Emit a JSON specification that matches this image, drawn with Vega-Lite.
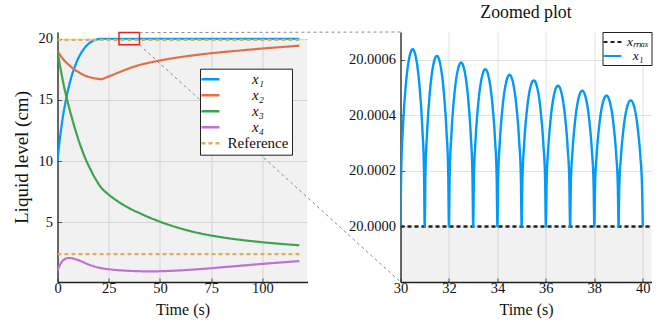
{
  "$schema": "https://vega.github.io/schema/vega-lite/v6.json",
  "padding": {"left": 11.5, "top": 3, "right": 5, "bottom": 5},
  "background": "white",
  "datasets": {
    "main": [
      {"series": "x₁", "g": "a", "t": 0, "v": 10}, {"series": "x₁", "g": "a", "t": 0.5, "v": 10.85}, {"series": "x₁", "g": "a", "t": 1, "v": 11.6}, {"series": "x₁", "g": "a", "t": 2, "v": 12.9}, {"series": "x₁", "g": "a", "t": 3, "v": 14.0}, {"series": "x₁", "g": "a", "t": 4, "v": 14.9}, {"series": "x₁", "g": "a", "t": 5, "v": 15.7}, {"series": "x₁", "g": "a", "t": 6, "v": 16.4}, {"series": "x₁", "g": "a", "t": 7, "v": 17.0}, {"series": "x₁", "g": "a", "t": 8, "v": 17.5}, {"series": "x₁", "g": "a", "t": 9, "v": 17.95}, {"series": "x₁", "g": "a", "t": 10, "v": 18.35}, {"series": "x₁", "g": "a", "t": 12, "v": 18.95}, {"series": "x₁", "g": "a", "t": 14, "v": 19.4}, {"series": "x₁", "g": "a", "t": 16, "v": 19.7}, {"series": "x₁", "g": "a", "t": 18, "v": 19.88}, {"series": "x₁", "g": "a", "t": 20, "v": 19.97}, {"series": "x₁", "g": "a", "t": 22, "v": 20}, {"series": "x₁", "g": "a", "t": 30, "v": 20}, {"series": "x₁", "g": "a", "t": 60, "v": 20}, {"series": "x₁", "g": "a", "t": 90, "v": 20}, {"series": "x₁", "g": "a", "t": 118, "v": 20},
      {"series": "x₂", "g": "b", "t": 0, "v": 19}, {"series": "x₂", "g": "b", "t": 2, "v": 18.5}, {"series": "x₂", "g": "b", "t": 4, "v": 18.1}, {"series": "x₂", "g": "b", "t": 6, "v": 17.8}, {"series": "x₂", "g": "b", "t": 8, "v": 17.5}, {"series": "x₂", "g": "b", "t": 10, "v": 17.3}, {"series": "x₂", "g": "b", "t": 12, "v": 17.1}, {"series": "x₂", "g": "b", "t": 14, "v": 16.95}, {"series": "x₂", "g": "b", "t": 16, "v": 16.85}, {"series": "x₂", "g": "b", "t": 18, "v": 16.77}, {"series": "x₂", "g": "b", "t": 20, "v": 16.72}, {"series": "x₂", "g": "b", "t": 21.5, "v": 16.7}, {"series": "x₂", "g": "b", "t": 23, "v": 16.78}, {"series": "x₂", "g": "b", "t": 25, "v": 16.92}, {"series": "x₂", "g": "b", "t": 27, "v": 17.05}, {"series": "x₂", "g": "b", "t": 30, "v": 17.25}, {"series": "x₂", "g": "b", "t": 35, "v": 17.58}, {"series": "x₂", "g": "b", "t": 40, "v": 17.85}, {"series": "x₂", "g": "b", "t": 45, "v": 18.05}, {"series": "x₂", "g": "b", "t": 50, "v": 18.22}, {"series": "x₂", "g": "b", "t": 60, "v": 18.5}, {"series": "x₂", "g": "b", "t": 70, "v": 18.72}, {"series": "x₂", "g": "b", "t": 80, "v": 18.9}, {"series": "x₂", "g": "b", "t": 90, "v": 19.05}, {"series": "x₂", "g": "b", "t": 100, "v": 19.2}, {"series": "x₂", "g": "b", "t": 110, "v": 19.33}, {"series": "x₂", "g": "b", "t": 118, "v": 19.43},
      {"series": "x₃", "g": "c", "t": 0, "v": 19}, {"series": "x₃", "g": "c", "t": 1, "v": 18.0}, {"series": "x₃", "g": "c", "t": 2, "v": 17.1}, {"series": "x₃", "g": "c", "t": 3, "v": 16.25}, {"series": "x₃", "g": "c", "t": 4, "v": 15.5}, {"series": "x₃", "g": "c", "t": 5, "v": 14.8}, {"series": "x₃", "g": "c", "t": 6, "v": 14.15}, {"series": "x₃", "g": "c", "t": 7, "v": 13.55}, {"series": "x₃", "g": "c", "t": 8, "v": 12.95}, {"series": "x₃", "g": "c", "t": 9, "v": 12.4}, {"series": "x₃", "g": "c", "t": 10, "v": 11.85}, {"series": "x₃", "g": "c", "t": 12, "v": 10.9}, {"series": "x₃", "g": "c", "t": 14, "v": 10.05}, {"series": "x₃", "g": "c", "t": 16, "v": 9.35}, {"series": "x₃", "g": "c", "t": 18, "v": 8.7}, {"series": "x₃", "g": "c", "t": 20, "v": 8.15}, {"series": "x₃", "g": "c", "t": 22, "v": 7.7}, {"series": "x₃", "g": "c", "t": 24, "v": 7.4}, {"series": "x₃", "g": "c", "t": 27, "v": 7.0}, {"series": "x₃", "g": "c", "t": 30, "v": 6.65}, {"series": "x₃", "g": "c", "t": 35, "v": 6.15}, {"series": "x₃", "g": "c", "t": 40, "v": 5.75}, {"series": "x₃", "g": "c", "t": 45, "v": 5.38}, {"series": "x₃", "g": "c", "t": 50, "v": 5.05}, {"series": "x₃", "g": "c", "t": 60, "v": 4.5}, {"series": "x₃", "g": "c", "t": 70, "v": 4.08}, {"series": "x₃", "g": "c", "t": 80, "v": 3.78}, {"series": "x₃", "g": "c", "t": 90, "v": 3.55}, {"series": "x₃", "g": "c", "t": 100, "v": 3.37}, {"series": "x₃", "g": "c", "t": 110, "v": 3.22}, {"series": "x₃", "g": "c", "t": 118, "v": 3.12},
      {"series": "x₄", "g": "d", "t": 0, "v": 1.05}, {"series": "x₄", "g": "d", "t": 1, "v": 1.45}, {"series": "x₄", "g": "d", "t": 2, "v": 1.75}, {"series": "x₄", "g": "d", "t": 3, "v": 1.93}, {"series": "x₄", "g": "d", "t": 4, "v": 2.03}, {"series": "x₄", "g": "d", "t": 5, "v": 2.07}, {"series": "x₄", "g": "d", "t": 6, "v": 2.08}, {"series": "x₄", "g": "d", "t": 7, "v": 2.06}, {"series": "x₄", "g": "d", "t": 8, "v": 2.02}, {"series": "x₄", "g": "d", "t": 10, "v": 1.92}, {"series": "x₄", "g": "d", "t": 12, "v": 1.78}, {"series": "x₄", "g": "d", "t": 14, "v": 1.63}, {"series": "x₄", "g": "d", "t": 16, "v": 1.5}, {"series": "x₄", "g": "d", "t": 18, "v": 1.39}, {"series": "x₄", "g": "d", "t": 20, "v": 1.3}, {"series": "x₄", "g": "d", "t": 22, "v": 1.23}, {"series": "x₄", "g": "d", "t": 25, "v": 1.16}, {"series": "x₄", "g": "d", "t": 30, "v": 1.08}, {"series": "x₄", "g": "d", "t": 35, "v": 1.03}, {"series": "x₄", "g": "d", "t": 40, "v": 1.0}, {"series": "x₄", "g": "d", "t": 45, "v": 0.99}, {"series": "x₄", "g": "d", "t": 50, "v": 1.0}, {"series": "x₄", "g": "d", "t": 55, "v": 1.03}, {"series": "x₄", "g": "d", "t": 60, "v": 1.07}, {"series": "x₄", "g": "d", "t": 70, "v": 1.18}, {"series": "x₄", "g": "d", "t": 80, "v": 1.32}, {"series": "x₄", "g": "d", "t": 90, "v": 1.46}, {"series": "x₄", "g": "d", "t": 100, "v": 1.6}, {"series": "x₄", "g": "d", "t": 110, "v": 1.73}, {"series": "x₄", "g": "d", "t": 118, "v": 1.83},
      {"series": "Reference", "g": "r1", "t": 0, "v": 19.9}, {"series": "Reference", "g": "r1", "t": 118, "v": 19.9},
      {"series": "Reference", "g": "r2", "t": 0, "v": 2.4}, {"series": "Reference", "g": "r2", "t": 118, "v": 2.4}
    ],
    "zoom": [
      {"series": "xₘₐₓ", "t": 30, "v": 20}, {"series": "xₘₐₓ", "t": 40.36, "v": 20},
      {"series": "x₁", "t": 30, "v": 20}, {"series": "x₁", "t": 30.03, "v": 20.000198}, {"series": "x₁", "t": 30.1, "v": 20.000355}, {"series": "x₁", "t": 30.2, "v": 20.000489}, {"series": "x₁", "t": 30.35, "v": 20.000602}, {"series": "x₁", "t": 30.5, "v": 20.000638}, {"series": "x₁", "t": 30.65, "v": 20.000602}, {"series": "x₁", "t": 30.8, "v": 20.000489}, {"series": "x₁", "t": 30.9, "v": 20.000355}, {"series": "x₁", "t": 30.97, "v": 20.000198},
      {"series": "x₁", "t": 31, "v": 20}, {"series": "x₁", "t": 31.03, "v": 20.00019}, {"series": "x₁", "t": 31.1, "v": 20.000341}, {"series": "x₁", "t": 31.2, "v": 20.000471}, {"series": "x₁", "t": 31.35, "v": 20.00058}, {"series": "x₁", "t": 31.5, "v": 20.000614}, {"series": "x₁", "t": 31.65, "v": 20.00058}, {"series": "x₁", "t": 31.8, "v": 20.000471}, {"series": "x₁", "t": 31.9, "v": 20.000341}, {"series": "x₁", "t": 31.97, "v": 20.00019},
      {"series": "x₁", "t": 32, "v": 20}, {"series": "x₁", "t": 32.03, "v": 20.000183}, {"series": "x₁", "t": 32.1, "v": 20.000328}, {"series": "x₁", "t": 32.2, "v": 20.000453}, {"series": "x₁", "t": 32.35, "v": 20.000557}, {"series": "x₁", "t": 32.5, "v": 20.00059}, {"series": "x₁", "t": 32.65, "v": 20.000557}, {"series": "x₁", "t": 32.8, "v": 20.000453}, {"series": "x₁", "t": 32.9, "v": 20.000328}, {"series": "x₁", "t": 32.97, "v": 20.000183},
      {"series": "x₁", "t": 33, "v": 20}, {"series": "x₁", "t": 33.03, "v": 20.000175}, {"series": "x₁", "t": 33.1, "v": 20.000315}, {"series": "x₁", "t": 33.2, "v": 20.000434}, {"series": "x₁", "t": 33.35, "v": 20.000534}, {"series": "x₁", "t": 33.5, "v": 20.000566}, {"series": "x₁", "t": 33.65, "v": 20.000534}, {"series": "x₁", "t": 33.8, "v": 20.000434}, {"series": "x₁", "t": 33.9, "v": 20.000315}, {"series": "x₁", "t": 33.97, "v": 20.000175},
      {"series": "x₁", "t": 34, "v": 20}, {"series": "x₁", "t": 34.03, "v": 20.000169}, {"series": "x₁", "t": 34.1, "v": 20.000304}, {"series": "x₁", "t": 34.2, "v": 20.000419}, {"series": "x₁", "t": 34.35, "v": 20.000515}, {"series": "x₁", "t": 34.5, "v": 20.000546}, {"series": "x₁", "t": 34.65, "v": 20.000515}, {"series": "x₁", "t": 34.8, "v": 20.000419}, {"series": "x₁", "t": 34.9, "v": 20.000304}, {"series": "x₁", "t": 34.97, "v": 20.000169},
      {"series": "x₁", "t": 35, "v": 20}, {"series": "x₁", "t": 35.03, "v": 20.000163}, {"series": "x₁", "t": 35.1, "v": 20.000292}, {"series": "x₁", "t": 35.2, "v": 20.000403}, {"series": "x₁", "t": 35.35, "v": 20.000497}, {"series": "x₁", "t": 35.5, "v": 20.000526}, {"series": "x₁", "t": 35.65, "v": 20.000497}, {"series": "x₁", "t": 35.8, "v": 20.000403}, {"series": "x₁", "t": 35.9, "v": 20.000292}, {"series": "x₁", "t": 35.97, "v": 20.000163},
      {"series": "x₁", "t": 36, "v": 20}, {"series": "x₁", "t": 36.03, "v": 20.000157}, {"series": "x₁", "t": 36.1, "v": 20.000282}, {"series": "x₁", "t": 36.2, "v": 20.000389}, {"series": "x₁", "t": 36.35, "v": 20.000479}, {"series": "x₁", "t": 36.5, "v": 20.000507}, {"series": "x₁", "t": 36.65, "v": 20.000479}, {"series": "x₁", "t": 36.8, "v": 20.000389}, {"series": "x₁", "t": 36.9, "v": 20.000282}, {"series": "x₁", "t": 36.97, "v": 20.000157},
      {"series": "x₁", "t": 37, "v": 20}, {"series": "x₁", "t": 37.03, "v": 20.000152}, {"series": "x₁", "t": 37.1, "v": 20.000272}, {"series": "x₁", "t": 37.2, "v": 20.000375}, {"series": "x₁", "t": 37.35, "v": 20.000462}, {"series": "x₁", "t": 37.5, "v": 20.000489}, {"series": "x₁", "t": 37.65, "v": 20.000462}, {"series": "x₁", "t": 37.8, "v": 20.000375}, {"series": "x₁", "t": 37.9, "v": 20.000272}, {"series": "x₁", "t": 37.97, "v": 20.000152},
      {"series": "x₁", "t": 38, "v": 20}, {"series": "x₁", "t": 38.03, "v": 20.000146}, {"series": "x₁", "t": 38.1, "v": 20.000262}, {"series": "x₁", "t": 38.2, "v": 20.000361}, {"series": "x₁", "t": 38.35, "v": 20.000445}, {"series": "x₁", "t": 38.5, "v": 20.000471}, {"series": "x₁", "t": 38.65, "v": 20.000445}, {"series": "x₁", "t": 38.8, "v": 20.000361}, {"series": "x₁", "t": 38.9, "v": 20.000262}, {"series": "x₁", "t": 38.97, "v": 20.000146},
      {"series": "x₁", "t": 39, "v": 20}, {"series": "x₁", "t": 39.03, "v": 20.000141}, {"series": "x₁", "t": 39.1, "v": 20.000252}, {"series": "x₁", "t": 39.2, "v": 20.000348}, {"series": "x₁", "t": 39.35, "v": 20.000429}, {"series": "x₁", "t": 39.5, "v": 20.000454}, {"series": "x₁", "t": 39.65, "v": 20.000429}, {"series": "x₁", "t": 39.8, "v": 20.000348}, {"series": "x₁", "t": 39.9, "v": 20.000252}, {"series": "x₁", "t": 39.97, "v": 20.000141},
      {"series": "x₁", "t": 40, "v": 20}
    ]
  },
  "hconcat": [
    {
      "width": 250,
      "height": 250,
      "layer": [
        {
          "data": {"values": [{"lo": 0, "hi": 20}]},
          "mark": {"type": "rect", "color": "black", "opacity": 0.055, "clip": true},
          "encoding": {
            "y": {"field": "lo", "type": "quantitative", "title": "Liquid level (cm)", "scale": {"domain": [0.12, 20.55], "nice": false, "zero": false}},
            "y2": {"field": "hi"}
          }
        },
        {
          "data": {"name": "main"},
          "mark": {"type": "line", "strokeWidth": 2.2, "interpolate": "monotone", "clip": true},
          "encoding": {
            "x": {"field": "t", "type": "quantitative", "title": "Time (s)", "scale": {"domain": [0, 122], "nice": false, "zero": false},
                  "axis": {"values": [0, 25, 50, 75, 100]}},
            "y": {"field": "v", "type": "quantitative", "title": "Liquid level (cm)", "scale": {"domain": [0.12, 20.55], "nice": false, "zero": false},
                  "axis": {"values": [5, 10, 15, 20]}},
            "color": {"field": "series", "type": "nominal",
                      "scale": {"domain": ["x₁", "x₂", "x₃", "x₄", "Reference"], "range": ["#009af9", "#e26f46", "#3da44d", "#c271d2", "#deb052"]},
                      "legend": {"title": null, "orient": "none", "legendX": 142.5, "legendY": 36.7, "padding": 3, "fillColor": "white", "strokeColor": "#222",
                                 "symbolType": "M-1.5,0H1.5", "symbolSize": 144, "symbolStrokeWidth": 2.5, "labelFont": "Liberation Serif", "labelFontSize": 15, "labelAlign": "center", "labelOffset": 40,
                                 "rowPadding": 0, "labelLimit": 300,
                                 "encode": {"labels": {"update": {"fontStyle": {"signal": "datum.value == 'Reference' ? 'normal' : 'italic'"}}}}}},
            "strokeDash": {"field": "series", "type": "nominal",
                           "scale": {"domain": ["x₁", "x₂", "x₃", "x₄", "Reference"], "range": [[1, 0], [1, 0], [1, 0], [1, 0], [4, 3]]},
                           "legend": {"title": null, "orient": "none", "legendX": 142.5, "legendY": 36.7, "padding": 3, "fillColor": "white", "strokeColor": "#222",
                                 "symbolType": "M-1.5,0H1.5", "symbolSize": 144, "symbolStrokeWidth": 2.5, "labelFont": "Liberation Serif", "labelFontSize": 15, "labelAlign": "center", "labelOffset": 40,
                                 "rowPadding": 0, "labelLimit": 300,
                                 "encode": {"labels": {"update": {"fontStyle": {"signal": "datum.value == 'Reference' ? 'normal' : 'italic'"}}}}}},
            "detail": {"field": "g"}
          }
        },
        {
          "data": {"values": [{"t": 30, "t2": 40, "v": 19.5, "v2": 20.5}]},
          "mark": {"type": "rect", "fill": "transparent", "stroke": "#e8231f", "strokeWidth": 1.5},
          "encoding": {
            "x": {"field": "t", "type": "quantitative", "title": "Time (s)", "scale": {"domain": [0, 122], "nice": false, "zero": false}},
            "x2": {"field": "t2"},
            "y": {"field": "v", "type": "quantitative", "title": "Liquid level (cm)", "scale": {"domain": [0.12, 20.55], "nice": false, "zero": false}},
            "y2": {"field": "v2"}
          }
        },
        {
          "data": {"values": [{"t": 40, "t2": 167.38, "v": 20.5, "v2": 20.55}, {"t": 40, "t2": 167.38, "v": 19.5, "v2": 0.12}]},
          "mark": {"type": "rule", "color": "#8a8a8a", "strokeWidth": 1, "strokeDash": [3, 3], "clip": false},
          "encoding": {
            "x": {"field": "t", "type": "quantitative", "title": "Time (s)", "scale": {"domain": [0, 122], "nice": false, "zero": false}},
            "x2": {"field": "t2"},
            "y": {"field": "v", "type": "quantitative", "title": "Liquid level (cm)", "scale": {"domain": [0.12, 20.55], "nice": false, "zero": false}},
            "y2": {"field": "v2"}
          }
        }
      ]
    },
    {
      "width": 251,
      "height": 250,
      "title": {"text": "Zoomed plot"},
      "layer": [
        {
          "data": {"values": [{"lo": 19.9998, "hi": 20}]},
          "mark": {"type": "rect", "color": "black", "opacity": 0.055},
          "encoding": {
            "y": {"field": "lo", "type": "quantitative", "title": null, "scale": {"domain": [19.9998, 20.0007], "nice": false, "zero": false}},
            "y2": {"field": "hi"}
          }
        },
        {
          "data": {"name": "zoom"},
          "mark": {"type": "line", "strokeWidth": 2.4, "interpolate": "monotone", "clip": true},
          "encoding": {
            "x": {"field": "t", "type": "quantitative", "title": "Time (s)", "scale": {"domain": [30, 40.36], "nice": false, "zero": false},
                  "axis": {"values": [30, 32, 34, 36, 38, 40]}},
            "y": {"field": "v", "type": "quantitative", "title": null, "scale": {"domain": [19.9998, 20.0007], "nice": false, "zero": false},
                  "axis": {"values": [20, 20.0002, 20.0004, 20.0006], "format": ".4f"}},
            "color": {"field": "series", "type": "nominal",
                      "scale": {"domain": ["xₘₐₓ", "x₁"], "range": ["#222222", "#009af9"]},
                      "legend": {"title": null, "orient": "top-right", "offset": 0, "padding": 2.5, "fillColor": "white", "strokeColor": "#222",
                                 "symbolType": "M-1.5,0H1.5", "symbolSize": 144, "symbolStrokeWidth": 2.2, "labelFont": "Liberation Serif", "labelFontSize": 13.5, "labelAlign": "center", "labelOffset": 18,
                                 "rowPadding": 0, "labelLimit": 300, "labelFontStyle": "italic"}},
            "strokeDash": {"field": "series", "type": "nominal",
                           "scale": {"domain": ["xₘₐₓ", "x₁"], "range": [[4, 3], [1, 0]]},
                           "legend": {"title": null, "orient": "top-right", "offset": 0, "padding": 2.5, "fillColor": "white", "strokeColor": "#222",
                                 "symbolType": "M-1.5,0H1.5", "symbolSize": 144, "symbolStrokeWidth": 2.2, "labelFont": "Liberation Serif", "labelFontSize": 13.5, "labelAlign": "center", "labelOffset": 18,
                                 "rowPadding": 0, "labelLimit": 300, "labelFontStyle": "italic"}}
          }
        }
      ]
    }
  ],
  "spacing": 93,
  "bounds": "flush",
  "resolve": {
    "scale": {"x": "independent", "y": "independent", "color": "independent", "strokeDash": "independent"},
    "legend": {"color": "independent", "strokeDash": "independent"}
  },
  "config": {
    "font": "Liberation Serif",
    "view": {"stroke": null},
    "style": {
      "guide-label": {"font": "Liberation Serif"},
      "guide-title": {"font": "Liberation Serif"},
      "group-title": {"font": "Liberation Serif"}
    },
    "axis": {
      "labelFont": "Liberation Serif", "labelFontSize": 14.5, "labelColor": "#111",
      "titleFont": "Liberation Serif", "titleFontWeight": "normal", "titleColor": "#111",
      "domainColor": "#222", "domainWidth": 1.3, "tickColor": "#555", "tickSize": -4, "tickWidth": 1,
      "gridColor": "#e2e2e2", "gridWidth": 1, "labelFlush": false, "labelOverlap": false
    },
    "axisX": {"labelFont": "Liberation Serif", "titleFontSize": 16, "labelPadding": 3, "titlePadding": 6.5},
    "axisY": {"labelFont": "Liberation Serif", "titleFontSize": 19, "labelPadding": 9, "titlePadding": 7},
    "title": {"font": "Liberation Serif", "fontSize": 17.8, "fontWeight": "normal", "offset": 10, "color": "#111"},
    "legend": {"labelFont": "Liberation Serif", "labelColor": "#111"}
  }
}
